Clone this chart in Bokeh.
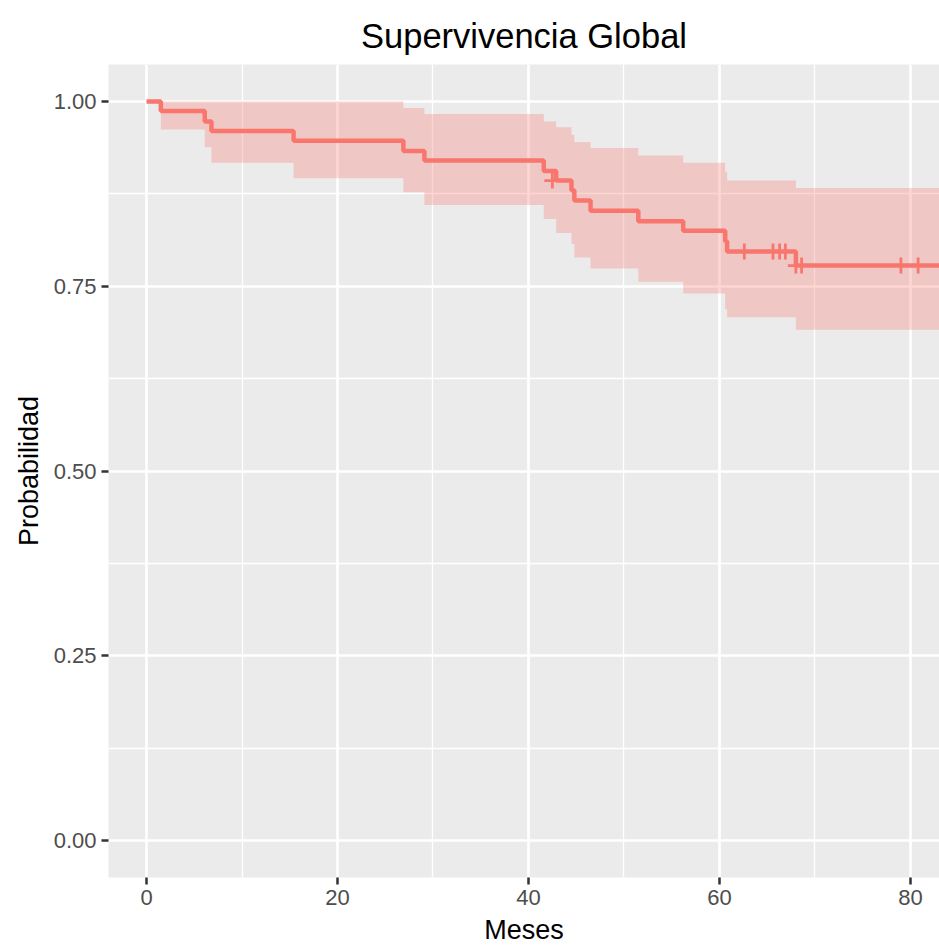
from bokeh.plotting import figure
from bokeh.models import FixedTicker, PrintfTickFormatter, Range1d, ColumnDataSource
from bokeh.embed import file_html
from bokeh.resources import INLINE

# Kaplan-Meier estimate
times = [0, 1.5, 6.1, 6.8, 15.4, 26.9, 29.1, 41.6, 42.9, 44.5, 44.8, 46.5, 51.5, 56.2, 60.6, 60.8, 68.0]
surv = [1.0, 0.987, 0.973, 0.960, 0.947, 0.933, 0.920, 0.906, 0.893, 0.880, 0.866, 0.852, 0.838, 0.825, 0.811, 0.797, 0.778]
upper = [1.0, 1.0, 1.0, 1.0, 1.0, 0.991, 0.983, 0.973, 0.965, 0.955, 0.945, 0.937, 0.927, 0.917, 0.905, 0.893, 0.883]
lower = [1.0, 0.962, 0.938, 0.917, 0.896, 0.877, 0.860, 0.841, 0.822, 0.807, 0.789, 0.774, 0.756, 0.740, 0.719, 0.708, 0.691]
follow_up_end = 86.0

# censored observations
cens_t = [42.5, 62.6, 65.6, 66.3, 66.9, 68.0, 68.6, 79.0, 80.8]
cens_s = [0.893, 0.797, 0.797, 0.797, 0.797, 0.778, 0.778, 0.778, 0.778]

x_ticks = [0, 20, 40, 60, 80]
x_minor = [10, 30, 50, 70]
y_ticks = [0.0, 0.25, 0.5, 0.75, 1.0]
y_minor = [0.125, 0.375, 0.625, 0.875]

title = "Supervivencia Global"
x_label = "Meses"
y_label = "Probabilidad"

COL = "#F8766D"
FONT = "Liberation Sans"

t_ext = times + [follow_up_end]
src = ColumnDataSource(dict(t=t_ext, s=surv + [surv[-1]], up=upper + [upper[-1]], lo=lower + [lower[-1]]))

p = figure(width=939, height=947, output_backend="svg", toolbar_location=None,
           x_range=Range1d(-3.98, 83.04), y_range=Range1d(-0.05, 1.05),
           min_border_left=108, min_border_right=0, min_border_top=64, min_border_bottom=69,
           background_fill_color="#EBEBEB", border_fill_color="white", outline_line_color=None)

p.title.text = title
p.title.align = "center"
p.title.text_font = FONT
p.title.text_font_size = "34.5px"
p.title.text_font_style = "normal"
p.title.text_color = "black"
p.title.standoff = 16
p.title.vertical_align = "top"

p.varea_step(x="t", y1="lo", y2="up", source=src, step_mode="after", fill_color=COL, fill_alpha=0.3)
p.step(x="t", y="s", source=src, mode="after", line_color=COL, line_width=4.5)
p.scatter(cens_t, cens_s, marker="cross", size=16, line_color=COL, line_width=2.8)

p.xaxis.ticker = FixedTicker(ticks=x_ticks, minor_ticks=x_minor)
p.yaxis.ticker = FixedTicker(ticks=y_ticks, minor_ticks=y_minor)
p.yaxis.formatter = PrintfTickFormatter(format="%.2f")

for ax in (p.xaxis[0], p.yaxis[0]):
    ax.axis_line_color = None
    ax.major_tick_line_color = "#333333"
    ax.major_tick_line_width = 2.5
    ax.major_tick_in = 0
    ax.major_tick_out = 7
    ax.minor_tick_line_color = None
    ax.major_label_text_font = FONT
    ax.major_label_text_font_size = "22px"
    ax.major_label_text_color = "#4D4D4D"
    ax.major_label_standoff = 5
    ax.axis_label_text_font = FONT
    ax.axis_label_text_font_size = "27px"
    ax.axis_label_text_font_style = "normal"
    ax.axis_label_text_color = "black"
    ax.axis_label_standoff = 7

p.xaxis.axis_label = x_label
p.yaxis.axis_label = y_label

for g in (p.xgrid[0], p.ygrid[0]):
    g.grid_line_color = "white"
    g.grid_line_width = 2.7
    g.minor_grid_line_color = "white"
    g.minor_grid_line_width = 1.3

open("out.html", "w").write(file_html(p, INLINE))
